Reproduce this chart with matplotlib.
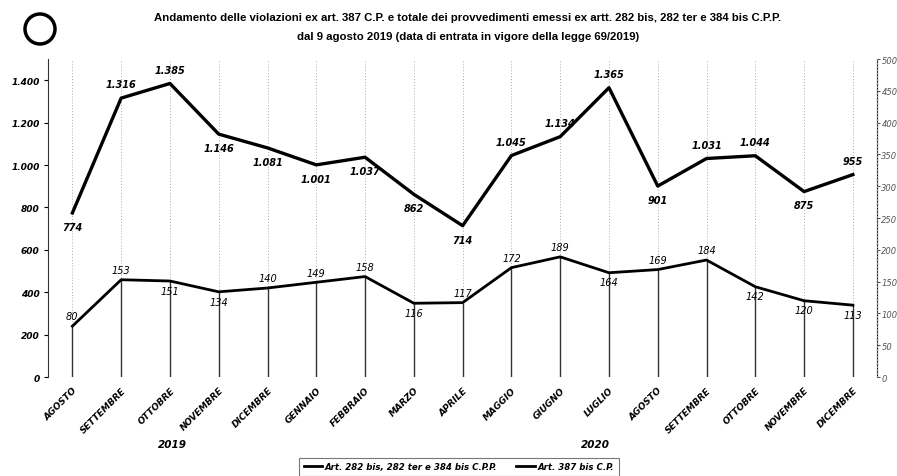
import matplotlib.pyplot as plt
from matplotlib.patches import Ellipse
from matplotlib.ticker import FuncFormatter

# data
mesi = ["AGOSTO", "SETTEMBRE", "OTTOBRE", "NOVEMBRE", "DICEMBRE", "GENNAIO", "FEBBRAIO",
        "MARZO", "APRILE", "MAGGIO", "GIUGNO", "LUGLIO", "AGOSTO", "SETTEMBRE",
        "OTTOBRE", "NOVEMBRE", "DICEMBRE"]
provvedimenti = [774, 1316, 1385, 1146, 1081, 1001, 1037, 862, 714, 1045, 1134, 1365,
                 901, 1031, 1044, 875, 955]
violazioni = [80, 153, 151, 134, 140, 149, 158, 116, 117, 172, 189, 164, 169, 184,
              142, 120, 113]
# label placement: 1 above, -1 below
pos_top = [-1, 1, 1, -1, -1, -1, -1, -1, -1, 1, 1, 1, -1, 1, 1, -1, 1]
pos_bot = [1, 1, -1, -1, 1, 1, 1, -1, 1, 1, 1, -1, 1, 1, -1, -1, -1]

fig = plt.figure(figsize=(8.97, 4.77), dpi=100)
ax = fig.add_axes([0.0535, 0.2075, 0.9245, 0.6665])
ax2 = ax.twinx()

x = list(range(len(mesi)))

# left axis line (provvedimenti)
ax.plot(x, provvedimenti, color="black", lw=2.4, zorder=5)
ax.set_ylim(0, 1500)
ax.set_yticks(range(0, 1401, 200))
ax.yaxis.set_major_formatter(FuncFormatter(lambda v, p: f"{int(v):,}".replace(",", ".")))
ax.set_xlim(-0.5, 16.5)
ax.set_xticks(x)
ax.set_xticklabels(mesi, rotation=45, ha="right", rotation_mode="anchor",
                   fontsize=6.5, fontweight="bold", fontstyle="italic")
for lab in ax.get_yticklabels():
    lab.set_fontsize(6.5)
    lab.set_fontweight("bold")
    lab.set_fontstyle("italic")
ax.tick_params(axis="x", length=0, pad=6)
ax.tick_params(axis="y", length=3, pad=3)

# right axis line (violazioni)
ax2.plot(x, violazioni, color="black", lw=2.0, zorder=5)
ax2.set_ylim(0, 500)
ax2.set_yticks(range(0, 501, 50))
ax2.vlines(x, 0, violazioni, color="#333333", lw=1.0, zorder=3)
for lab in ax2.get_yticklabels():
    lab.set_fontsize(6)
    lab.set_fontstyle("italic")
    lab.set_color("#555555")
ax2.tick_params(axis="y", length=2, pad=1, colors="#555555")

# dotted gridlines at each month
for xi in x:
    ax.axvline(xi, color="#aaaaaa", lw=0.7, ls=(0, (1, 2)), zorder=1)

for s in ["top", "bottom"]:
    ax.spines[s].set_visible(False)
    ax2.spines[s].set_visible(False)
ax.spines["left"].set_linestyle((0, (2, 1)))
ax.spines["left"].set_color("#333333")
ax2.spines["left"].set_visible(False)
ax2.spines["right"].set_linestyle((0, (1, 2)))
ax2.spines["right"].set_color("#888888")

# data labels
for xi, v, p in zip(x, provvedimenti, pos_top):
    ax.annotate(f"{v:,}".replace(",", "."), (xi, v), xytext=(0, 10 * p), textcoords="offset points",
                ha="center", va="center", fontsize=7, fontweight="bold", fontstyle="italic", zorder=6)
for xi, v, p in zip(x, violazioni, pos_bot):
    ax2.annotate(str(v), (xi, v), xytext=(0, 7 * p), textcoords="offset points",
                 ha="center", va="center", fontsize=7, fontstyle="italic", zorder=6)

# years
fig.text(172 / 897, 1 - 445 / 477, "2019", ha="center", va="center",
         fontsize=7.5, fontweight="bold", fontstyle="italic")
fig.text(595 / 897, 1 - 445 / 477, "2020", ha="center", va="center",
         fontsize=7.5, fontweight="bold", fontstyle="italic")

# title
fig.text(468 / 897, 1 - 18 / 477,
         "Andamento delle violazioni ex art. 387 C.P. e totale dei provvedimenti emessi ex artt. 282 bis, 282 ter e 384 bis C.P.P.",
         ha="center", va="center", fontsize=8.2, fontweight="bold", family="Liberation Sans")
fig.text(468 / 897, 1 - 37 / 477,
         "dal 9 agosto 2019 (data di entrata in vigore della legge 69/2019)",
         ha="center", va="center", fontsize=8.2, fontweight="bold", family="Liberation Sans")

# logo
fig.patches.append(Ellipse((40 / 897, 1 - 30 / 477), 30 / 897, 30 / 477, transform=fig.transFigure,
                           fill=False, lw=2.5, ec="black"))

# legend
h1, = ax.plot([], [], color="black", lw=2, label="Art. 282 bis, 282 ter e 384 bis C.P.P.")
h2, = ax.plot([], [], color="black", lw=2, label="Art. 387 bis C.P.")
leg = fig.legend(handles=[h1, h2], loc="lower center", bbox_to_anchor=(459 / 897, -0.008),
                 ncol=2, frameon=True, fancybox=False, edgecolor="#555555",
                 handlelength=2.2, handletextpad=0.3, columnspacing=2.2, borderpad=0.5,
                 prop={"style": "italic", "weight": "bold", "size": 6.2})
leg.get_frame().set_linewidth(0.8)

fig.savefig("out.png", dpi=100)
